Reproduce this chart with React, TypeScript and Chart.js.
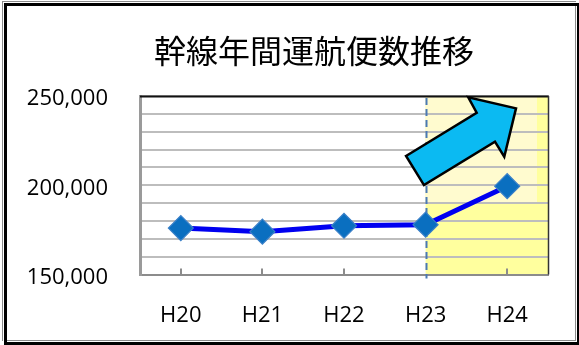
import React, { useEffect, useRef } from 'react';
import { Chart, registerables } from 'chart.js';

Chart.register(...registerables);

// ---- data ----
const categories = ['H20', 'H21', 'H22', 'H23', 'H24'];
const flights = [176000, 174000, 177300, 177900, 199500];
const yMin = 150000;
const yMax = 250000;
const yStep = 10000;
const yLabelStep = 50000;
const titleText = '幹線年間運航便数推移';
const highlightFrom = 3; // index of H23
// decorative arrow polygon in data units (category index, value)
const arrowIdx = [2.76, 3.626, 3.523, 4.108, 3.964, 3.85, 2.98];
const arrowVal = [216400, 240600, 249300, 243100, 216000, 224400, 200100];
const paleTopValue = 190000;
const paleRightIdx = 4.365;

const W = 579;
const H = 345;

const decorPlugin = {
  id: 'decor',
  beforeDraw(chart: any) {
    const { ctx, chartArea: a, scales } = chart;
    const x = scales.x;
    const y = scales.y;
    ctx.save();
    ctx.fillStyle = '#ffffff';
    ctx.fillRect(0, 0, W, H);
    // highlight region
    const hx = x.getPixelForValue(highlightFrom);
    ctx.fillStyle = '#ffff9e';
    ctx.fillRect(hx, a.top, a.right - hx, a.bottom - a.top);
    const py = y.getPixelForValue(paleTopValue);
    const pr = x.getPixelForValue(paleRightIdx);
    ctx.fillStyle = '#fffbcf';
    ctx.fillRect(hx, a.top, pr - hx, py - a.top);
    // frame
    ctx.fillStyle = '#8a8a8a';
    ctx.fillRect(2, 1, 1, 340);
    ctx.fillRect(2, 1, 574, 1);
    ctx.fillRect(575, 6, 1, 335);
    ctx.fillRect(6, 340, 570, 1);
    ctx.fillStyle = '#000000';
    ctx.fillRect(4, 3, 3, 339);
    ctx.fillRect(4, 3, 573, 3);
    ctx.fillRect(577, 3, 2, 342);
    ctx.fillRect(4, 342, 575, 3);
    // title
    ctx.fillStyle = '#000000';
    ctx.font = '32px "Noto Sans CJK JP", sans-serif';
    ctx.textAlign = 'center';
    ctx.textBaseline = 'middle';
    ctx.fillText(titleText, 314, 51);
    ctx.restore();
  },
  beforeDatasetsDraw(chart: any) {
    const { ctx, chartArea: a, scales } = chart;
    const x = scales.x;
    ctx.save();
    // top & right border
    ctx.strokeStyle = '#111111';
    ctx.lineWidth = 2;
    ctx.beginPath();
    ctx.moveTo(a.left, a.top + 0.5);
    ctx.lineTo(a.right + 1, a.top + 0.5);
    ctx.stroke();
    ctx.lineWidth = 1.5;
    ctx.strokeStyle = '#333333';
    ctx.beginPath();
    ctx.moveTo(a.right + 0.5, a.top);
    ctx.lineTo(a.right + 0.5, a.bottom);
    ctx.stroke();
    // inner tick marks at category centers
    ctx.strokeStyle = '#8c8c8c';
    ctx.lineWidth = 2;
    categories.forEach((_, i) => {
      if (i === highlightFrom) return;
      const px = Math.round(x.getPixelForValue(i));
      ctx.beginPath();
      ctx.moveTo(px, a.bottom);
      ctx.lineTo(px, a.bottom - 6);
      ctx.stroke();
    });
    // dashed separator
    const hx = Math.round(x.getPixelForValue(highlightFrom)) + 0.5;
    ctx.strokeStyle = '#4a79b5';
    ctx.lineWidth = 2;
    ctx.setLineDash([7, 4]);
    ctx.beginPath();
    ctx.moveTo(hx, a.top + 2);
    ctx.lineTo(hx, a.bottom + 4);
    ctx.stroke();
    ctx.restore();
  },
  afterDatasetsDraw(chart: any) {
    const { ctx, scales } = chart;
    const x = scales.x;
    const y = scales.y;
    ctx.save();
    ctx.beginPath();
    arrowIdx.forEach((ix, i) => {
      const px = x.getPixelForValue(ix);
      const py = y.getPixelForValue(arrowVal[i]);
      if (i === 0) ctx.moveTo(px, py);
      else ctx.lineTo(px, py);
    });
    ctx.closePath();
    ctx.fillStyle = '#0bbaf2';
    ctx.fill();
    ctx.strokeStyle = '#000000';
    ctx.lineWidth = 2.5;
    ctx.lineJoin = 'miter';
    ctx.stroke();
    ctx.restore();
  },
};

export default function App() {
  const ref = useRef<HTMLCanvasElement | null>(null);

  useEffect(() => {
    document.body.style.margin = '0';
    const canvas = ref.current;
    if (!canvas) return;
    const chart = new Chart(canvas, {
      type: 'line',
      data: {
        labels: categories,
        datasets: [
          {
            data: flights,
            borderColor: '#0000f0',
            borderWidth: 5,
            pointStyle: 'rectRot',
            pointRadius: 12.5,
            pointBackgroundColor: '#0a6fc0',
            pointBorderColor: '#3b80c8',
            pointBorderWidth: 1.2,
            tension: 0,
          },
        ],
      },
      options: {
        responsive: false,
        animation: false,
        devicePixelRatio: 1,
        layout: { padding: { left: 0, top: 96, right: 31, bottom: 0 } },
        plugins: {
          legend: { display: false },
          title: { display: false },
          tooltip: { enabled: false },
        },
        scales: {
          x: {
            type: 'category',
            offset: true,
            afterFit(scale: any) {
              scale.height = 70.5;
            },
            grid: { display: true, drawOnChartArea: false, drawTicks: false },
            border: { display: true, color: '#8c8c8c', width: 2 },
            ticks: {
              color: '#000000',
              padding: 28,
              font: { family: '"Open Sans", sans-serif', size: 22 },
            },
          },
          y: {
            min: yMin,
            max: yMax,
            afterFit(scale: any) {
              scale.width = 140;
            },
            grid: { color: '#bdbdbd', lineWidth: 2, drawTicks: false },
            border: { display: true, color: '#9a9a9a', width: 3 },
            ticks: {
              stepSize: yStep,
              autoSkip: false,
              padding: 32,
              labelOffset: 3,
              color: '#000000',
              font: { family: '"Open Sans", sans-serif', size: 22 },
              callback: (v: any) =>
                Number(v) % yLabelStep === 0 ? Number(v).toLocaleString('en-US') : '',
            },
          },
        },
      },
      plugins: [decorPlugin],
    });
    return () => chart.destroy();
  }, []);

  return (
    <div style={{ width: W, height: H }}>
      <canvas ref={ref} width={W} height={H} style={{ display: 'block' }} />
    </div>
  );
}
